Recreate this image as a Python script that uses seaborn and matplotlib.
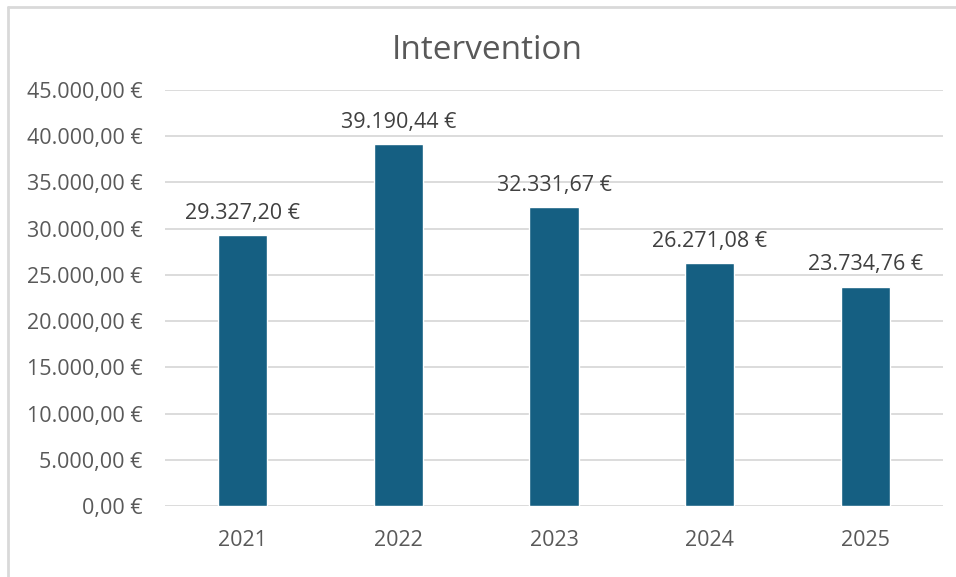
import seaborn as sns
from matplotlib import pyplot as plt
from matplotlib.lines import Line2D
import pandas as pd

years = ["2021", "2022", "2023", "2024", "2025"]
amounts = [29327.20, 39190.44, 32331.67, 26271.08, 23734.76]
title = "Intervention"


def euro(v):
    s = f"{v:,.2f}"
    s = s.replace(",", "X").replace(".", ",").replace("X", ".")
    return s + " €"


df = pd.DataFrame({"year": years, "amount": amounts})

sns.set_theme(style="white")
plt.rcParams["font.family"] = ["Open Sans", "DejaVu Sans"]

fig = plt.figure(figsize=(9.56, 5.77), dpi=100)
ax = fig.add_axes([0.1726, 0.1231, 0.8138, 0.7209])

sns.barplot(data=df, x="year", y="amount", color="#155F82", saturation=1,
            width=0.315, ax=ax, zorder=3)

ax.set_ylim(0, 45000)
ax.set_yticks(range(0, 45001, 5000))
ax.set_yticklabels([euro(v) for v in range(0, 45001, 5000)])
ax.yaxis.grid(True, color="#D9D9D9", linewidth=1.3, zorder=0)
ax.set_axisbelow(True)
for s in ax.spines.values():
    s.set_visible(False)
ax.tick_params(axis="y", labelsize=15.5, colors="#595959", pad=16, length=0)
ax.tick_params(axis="x", labelsize=15.5, colors="#595959", pad=17, length=0)
ax.set_xlabel("")
ax.set_ylabel("")

for i, v in enumerate(amounts):
    ax.annotate(euro(v), (i, v), xytext=(0, 8), textcoords="offset points",
                ha="center", va="bottom", fontsize=15.5, color="#404040")

fig.text(0.51, 1 - 50.5 / 577, title, ha="center", va="center", fontsize=24, color="#595959")

# chart border (only top and left edges visible in the crop)
fig.lines.append(Line2D([8 / 956, 1], [1 - 7 / 577, 1 - 7 / 577], transform=fig.transFigure,
                        color="#D9D9D9", linewidth=2))
fig.lines.append(Line2D([8 / 956, 8 / 956], [0, 1 - 7 / 577], transform=fig.transFigure,
                        color="#D9D9D9", linewidth=2))

fig.savefig("out.png", dpi=100)
